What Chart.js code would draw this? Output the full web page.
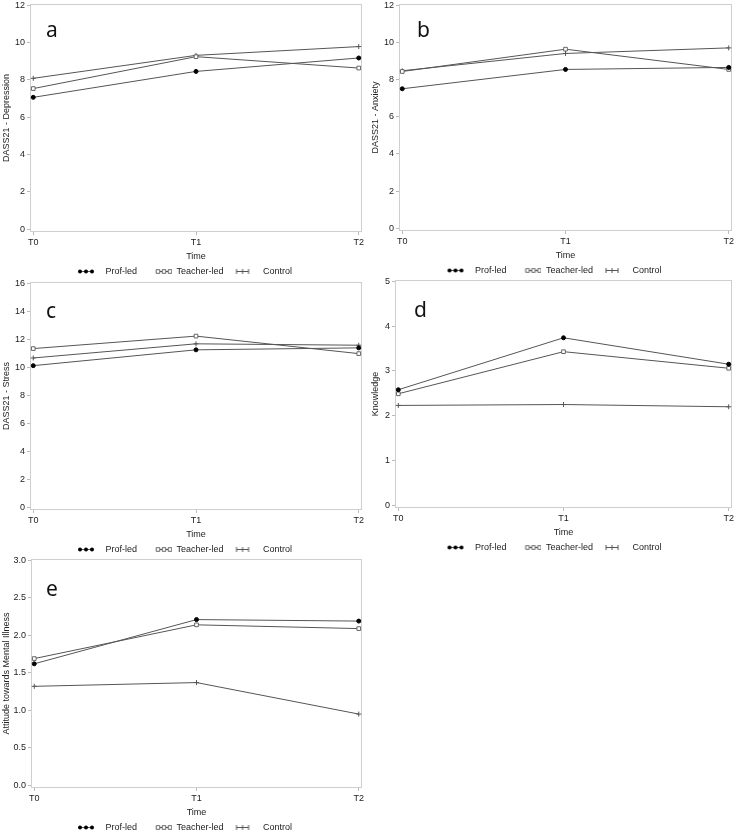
<!DOCTYPE html>
<html>
<head>
<meta charset="utf-8">
<script src="https://cdn.jsdelivr.net/npm/chart.js@4.4.1/dist/chart.umd.min.js"></script>
<style>
  html, body { margin: 0; padding: 0; background: #fff; overflow: hidden; width: 738px; height: 833px; }
  .panel { position: absolute; }
</style>
</head>
<body>
<div class="panel" style="left:0;top:0;width:369px;height:286px"><canvas id="chart-a"></canvas></div>
<div class="panel" style="left:369px;top:0;width:369px;height:285px"><canvas id="chart-b"></canvas></div>
<div class="panel" style="left:0;top:278px;width:369px;height:286px"><canvas id="chart-c"></canvas></div>
<div class="panel" style="left:369px;top:276px;width:369px;height:286px"><canvas id="chart-d"></canvas></div>
<div class="panel" style="left:0;top:555px;width:369px;height:287px"><canvas id="chart-e"></canvas></div>
<script>
// datos
const times = ['T0', 'T1', 'T2'];
const groups = ['Prof-led', 'Teacher-led', 'Control'];

const depressionProf = [7.07, 8.46, 9.18];
const depressionTeacher = [7.54, 9.25, 8.64];
const depressionControl = [8.09, 9.32, 9.79];

const anxietyProf = [7.51, 8.55, 8.66];
const anxietyTeacher = [8.44, 9.64, 8.55];
const anxietyControl = [8.48, 9.41, 9.71];

const stressProf = [10.12, 11.25, 11.39];
const stressTeacher = [11.34, 12.23, 10.98];
const stressControl = [10.67, 11.68, 11.58];

const knowledgeProf = [2.58, 3.74, 3.15];
const knowledgeTeacher = [2.49, 3.43, 3.06];
const knowledgeControl = [2.23, 2.25, 2.20];

const attitudeProf = [1.62, 2.21, 2.19];
const attitudeTeacher = [1.69, 2.14, 2.09];
const attitudeControl = [1.32, 1.37, 0.95];

const panelLetters = ['a', 'b', 'c', 'd', 'e'];
const yTitles = ['DASS21 - Depression', 'DASS21 - Anxiety', 'DASS21 - Stress', 'Knowledge', 'Attitude towards Mental Illness'];
const yMaxes = [12, 12, 16, 5, 3];
const ySteps = [2, 2, 2, 1, 0.5];
const xTitle = 'Time';

// posicion de cada panel (ancho del eje y, relleno, letra)
const layouts = [
  { id: 'chart-a', yWidth: 30, top: 4, right: 7, dx: 16, dy: 27 },
  { id: 'chart-b', yWidth: 30, top: 4, right: 6, dx: 18, dy: 27 },
  { id: 'chart-c', yWidth: 30, top: 4, right: 7, dx: 16, dy: 30 },
  { id: 'chart-d', yWidth: 26, top: 4, right: 6, dx: 19, dy: 31 },
  { id: 'chart-e', yWidth: 31, top: 4, right: 7, dx: 15, dy: 31 }
];

const panelSeries = [
  [depressionProf, depressionTeacher, depressionControl],
  [anxietyProf, anxietyTeacher, anxietyControl],
  [stressProf, stressTeacher, stressControl],
  [knowledgeProf, knowledgeTeacher, knowledgeControl],
  [attitudeProf, attitudeTeacher, attitudeControl]
];

const lineColor = '#555';
const textColor = '#222';
const markerStyles = [
  { pointStyle: 'circle', pointRadius: 2, pointBackgroundColor: '#000', pointBorderColor: '#000' },
  { pointStyle: 'rect', pointRadius: 2.6, pointBackgroundColor: '#fff', pointBorderColor: '#666' },
  { pointStyle: 'cross', pointRadius: 2.5, pointBackgroundColor: '#555', pointBorderColor: '#555' }
];

// iconos de la leyenda: linea con tres marcadores
function drawMarker(g, kind, x, y) {
  g.beginPath();
  if (kind === 0) {
    g.fillStyle = '#000';
    g.arc(x, y, 2, 0, Math.PI * 2);
    g.fill();
  } else if (kind === 1) {
    g.fillStyle = '#fff';
    g.strokeStyle = '#666';
    g.rect(x - 1.8, y - 1.8, 3.6, 3.6);
    g.fill();
    g.stroke();
  } else {
    g.strokeStyle = '#555';
    g.moveTo(x, y - 2.5); g.lineTo(x, y + 2.5);
    g.stroke();
  }
}

function makeIcon(kind, start) {
  const c = document.createElement('canvas');
  c.width = 31;
  c.height = 9;
  const g = c.getContext('2d');
  g.lineWidth = 1;
  g.strokeStyle = lineColor;
  g.beginPath();
  g.moveTo(start + 2, 4.5);
  g.lineTo(start + 14, 4.5);
  g.stroke();
  [start + 2, start + 8, start + 14].forEach(x => drawMarker(g, kind, x, 4.5));
  return c;
}
const legendIcons = [makeIcon(0, 8), makeIcon(1, 15), makeIcon(2, 7)];

const panelDecor = {
  id: 'panelDecor',
  beforeDatasetsDraw(chart, args, opts) {
    const { ctx, chartArea: a } = chart;
    ctx.save();
    ctx.strokeStyle = '#cfcfcf';
    ctx.lineWidth = 1;
    ctx.strokeRect(a.left + 0.5, a.top + 0.5, a.right - a.left - 1, a.bottom - a.top - 1);
    ctx.font = '21px "Noto Sans"';
    ctx.fillStyle = '#111';
    ctx.fillText(opts.letter, a.left + opts.dx, a.top + opts.dy);
    ctx.restore();
  }
};

function makeChart(i) {
  const lay = layouts[i];
  const yMax = yMaxes[i];
  const datasets = panelSeries[i].map((values, s) => Object.assign({
    label: groups[s],
    data: values.map((v, k) => ({ x: k, y: v })),
    borderColor: lineColor,
    borderWidth: 1,
    tension: 0,
    fill: false,
    pointBorderWidth: 1,
    pointHoverRadius: 3
  }, markerStyles[s]));

  new Chart(document.getElementById(lay.id), {
    type: 'line',
    data: { datasets: datasets },
    plugins: [panelDecor],
    options: {
      responsive: true,
      maintainAspectRatio: false,
      animation: false,
      layout: { padding: { left: 0, right: lay.right, top: lay.top, bottom: 0 } },
      plugins: {
        panelDecor: { letter: panelLetters[i], dx: lay.dx, dy: lay.dy },
        tooltip: { enabled: false },
        legend: {
          position: 'bottom',
          labels: {
            usePointStyle: true,
            pointStyleWidth: 31,
            padding: 4,
            color: textColor,
            font: { family: '"Liberation Sans", Arial, sans-serif', size: 9 },
            generateLabels: function (chart) {
              const items = Chart.defaults.plugins.legend.labels.generateLabels(chart);
              items.forEach((it, k) => { it.pointStyle = legendIcons[k]; });
              return items;
            }
          }
        }
      },
      scales: {
        x: {
          type: 'linear',
          min: -0.02,
          max: 2.02,
          afterFit: function (scale) {
            scale.height = 31;
            scale.paddingLeft = 0;
            scale.paddingRight = 0;
          },
          border: { display: false },
          grid: { drawOnChartArea: false, drawTicks: true, tickLength: 3, color: '#bbb' },
          ticks: {
            stepSize: 1,
            includeBounds: false,
            autoSkip: false,
            maxRotation: 0,
            padding: 2,
            color: textColor,
            font: { family: '"Liberation Sans", Arial, sans-serif', size: 9 },
            callback: function (v) { return times[v]; }
          },
          title: {
            display: true,
            text: xTitle,
            color: textColor,
            padding: { top: 0, bottom: 0.6 },
            font: { family: '"Liberation Sans", Arial, sans-serif', size: 9 }
          }
        },
        y: {
          type: 'linear',
          min: -yMax * 0.012,
          max: yMax * 1.006,
          afterFit: function (scale) {
            scale.width = lay.yWidth;
            scale.paddingTop = 0;
            scale.paddingBottom = 0;
          },
          border: { display: false },
          grid: { drawOnChartArea: false, drawTicks: true, tickLength: 3, color: '#bbb' },
          ticks: {
            stepSize: ySteps[i],
            includeBounds: false,
            padding: 2,
            color: textColor,
            font: { family: '"Liberation Sans", Arial, sans-serif', size: 9 },
            callback: function (v) { return ySteps[i] < 1 ? v.toFixed(1) : String(v); }
          },
          title: {
            display: true,
            text: yTitles[i],
            color: textColor,
            padding: { top: 1, bottom: 0 },
            font: { family: '"Liberation Sans", Arial, sans-serif', size: 9 }
          }
        }
      }
    }
  });
}

for (let i = 0; i < layouts.length; i++) {
  makeChart(i);
}
</script>
</body>
</html>
